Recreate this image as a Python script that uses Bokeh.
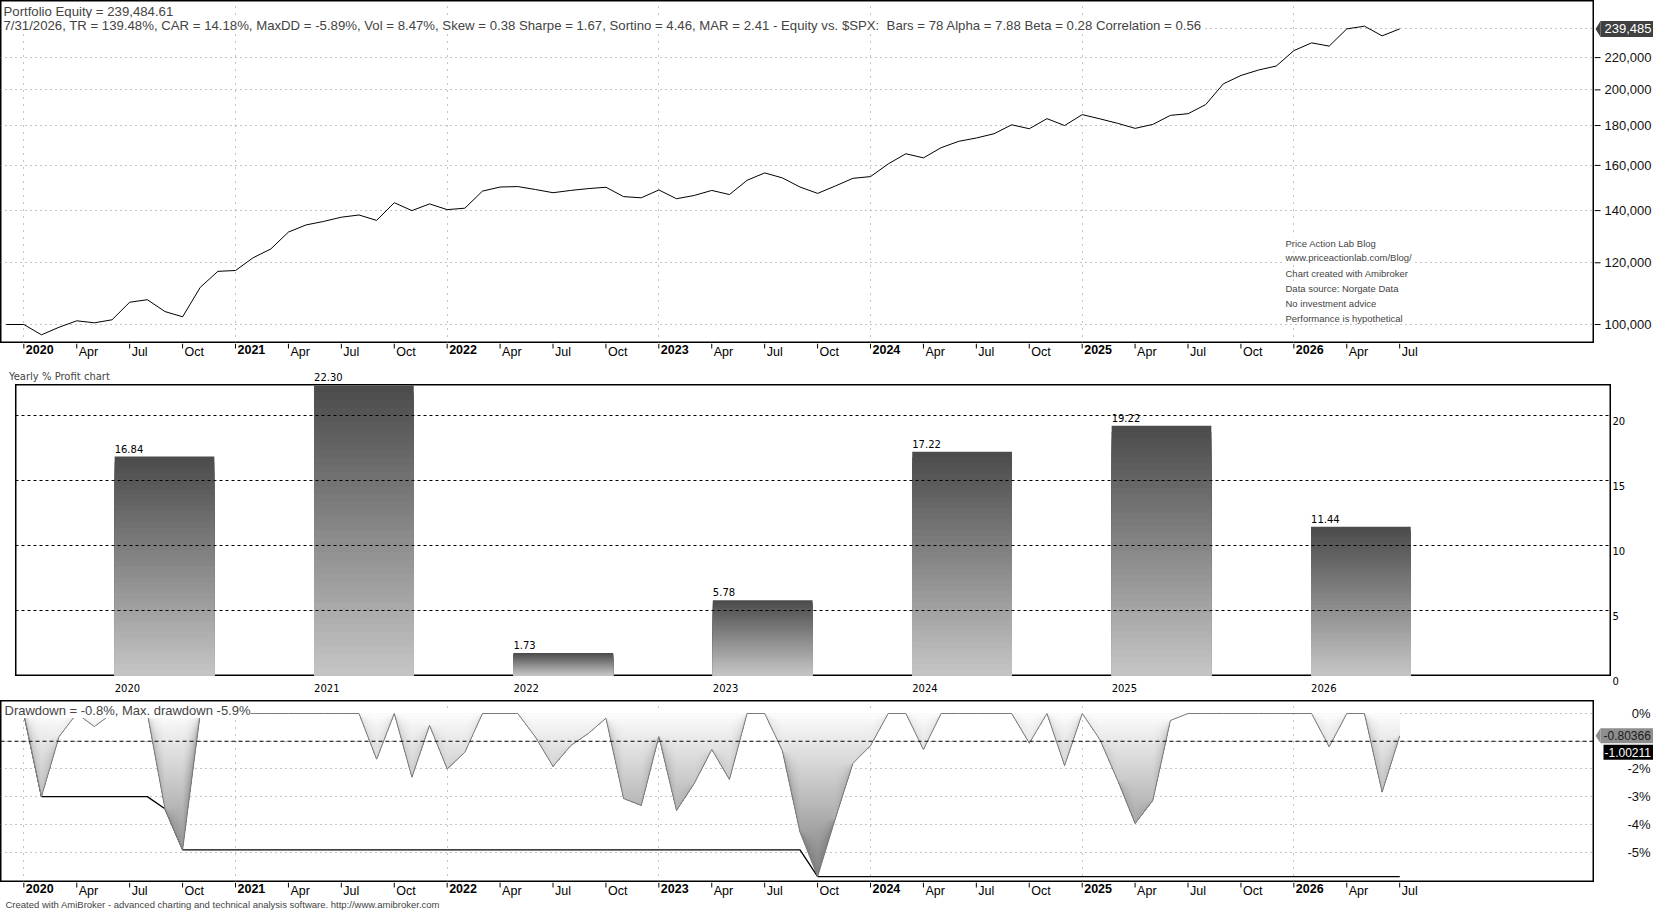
import numpy as np
from bokeh.plotting import figure
from bokeh.models import Range1d, FixedTicker, Label, Span, Spacer
from bokeh.layouts import column, row
from bokeh.core.properties import value
from bokeh.embed import file_html
from bokeh.resources import INLINE

# ---------------------------------------------------------------- data
bar_dates = [(2019, 12)] + [(y, m) for y in range(2020, 2027) for m in range(1, 13)][:79]
month_names = {1: None, 4: "Apr", 7: "Jul", 10: "Oct"}

equity = [100000, 100000, 97000, 99200, 101100, 100500, 101400, 106800, 107600, 103900,
          102300, 111600, 117000, 117300, 121800, 125000, 131400, 134200, 135600, 137300,
          138200, 136000, 143300, 140000, 142800, 140400, 141000, 148300, 150100, 150300,
          149000, 147600, 148600, 149400, 150000, 145900, 145400, 148800, 145000, 146400,
          148600, 146800, 153100, 156500, 154200, 150100, 147300, 150550, 154000, 154800,
          160700, 165600, 163600, 168600, 171800, 173500, 175700, 180400, 178300, 183700,
          180000, 185900, 183600, 181200, 178500, 180600, 185500, 186400, 191500, 203600,
          208700, 212100, 214600, 224600, 229800, 227600, 239500, 241400, 234600, 239484.61]

drawdown = [0, 0, -3.0, -0.83, 0, -0.47, 0, 0, 0, -3.44,
            -4.92, 0, 0, 0, 0, 0, 0, 0, 0, 0,
            0, -1.65, 0, -2.3, -0.43, -2.0, -1.4, 0, 0, 0,
            -0.85, -1.91, -1.16, -0.72, -0.17, -3.07, -3.32, -0.83, -3.5, -2.53,
            -1.3, -2.38, 0, 0, -1.34, -4.28, -5.89, -3.8, -1.8, -1.16,
            0, 0, -1.3, 0, 0, 0, 0, 0, -1.07, 0,
            -1.88, 0, -0.94, -2.4, -3.97, -3.14, -0.25, 0, 0, 0,
            0, 0, 0, 0, 0, -1.2, 0, 0, -2.84, -0.80366]

max_drawdown = [0, 0, -3.0, -3.0, -3.0, -3.0, -3.0, -3.0, -3.0, -3.44,
                -4.92, -4.92, -4.92, -4.92, -4.92, -4.92, -4.92, -4.92, -4.92, -4.92,
                -4.92, -4.92, -4.92, -4.92, -4.92, -4.92, -4.92, -4.92, -4.92, -4.92,
                -4.92, -4.92, -4.92, -4.92, -4.92, -4.92, -4.92, -4.92, -4.92, -4.92,
                -4.92, -4.92, -4.92, -4.92, -4.92, -4.92, -5.89, -5.89, -5.89, -5.89,
                -5.89, -5.89, -5.89, -5.89, -5.89, -5.89, -5.89, -5.89, -5.89, -5.89,
                -5.89, -5.89, -5.89, -5.89, -5.89, -5.89, -5.89, -5.89, -5.89, -5.89,
                -5.89, -5.89, -5.89, -5.89, -5.89, -5.89, -5.89, -5.89, -5.89, -5.89]
avg_drawdown = -1.00211

years = ["2020", "2021", "2022", "2023", "2024", "2025", "2026"]
yearly_profit = [16.84, 22.30, 1.73, 5.78, 17.22, 19.22, 11.44]

equity_ticks = [100000, 120000, 140000, 160000, 180000, 200000, 220000]
profit_ticks = [0, 5, 10, 15, 20]
dd_ticks = [0, -2, -3, -4, -5]
dd_grid = [0, -1, -2, -3, -4, -5]

stats_text = ("7/31/2026, TR = 139.48%, CAR = 14.18%, MaxDD = -5.89%, Vol = 8.47%, "
              "Skew = 0.38 Sharpe = 1.67, Sortino = 4.46, MAR = 2.41 - Equity vs. $SPX:\u00a0 "
              "Bars = 78 Alpha = 7.88 Beta = 0.28 Correlation = 0.56")
info_lines = ["Price Action Lab Blog", "www.priceactionlab.com/Blog/",
              "Chart created with Amibroker", "Data source: Norgate Data",
              "No investment advice", "Performance is hypothetical"]
footer_text = ("Created with AmiBroker - advanced charting and technical analysis software. "
               "http://www.amibroker.com")

# ---------------------------------------------------------------- helpers
idx = list(range(len(equity)))
tick_idx, year_x, year_t, mon_x, mon_t = [], [], [], [], []
for i, (yy, mm) in enumerate(bar_dates):
    if mm in month_names:
        tick_idx.append(i)
        if mm == 1:
            year_x.append(i)
            year_t.append(str(yy))
        else:
            mon_x.append(i)
            mon_t.append(month_names[mm])

FONT = "Liberation Sans"
GRID_DOT = "#8a8a8a"
W = 1653
MAIN_W, RIGHT_W = 1594, 59


def blank(width, height, x_range, y_range, y_log=False):
    p = figure(width=width, height=height, x_range=x_range, y_range=y_range,
               y_axis_type="log" if y_log else "linear",
               x_axis_location=None, y_axis_location=None,
               output_backend="svg", toolbar_location=None,
               min_border=0, min_border_left=0, min_border_right=0,
               min_border_top=0, min_border_bottom=0,
               background_fill_color="white", border_fill_color="white",
               outline_line_color=None)
    p.grid.visible = False
    return p


def boxed(p):
    p.outline_line_color = "black"
    p.outline_line_width = 2


def month_strip(height, label_y):
    s = blank(W, height, Range1d(-0.3231, 93.39), Range1d(-height, 0))
    s.segment(x0=tick_idx, x1=tick_idx, y0=0, y1=-5, line_color="black", line_width=1)
    s.text(x=year_x, y=label_y, text=year_t, x_offset=2, text_align="left",
           text_baseline="top", text_font=value(FONT), text_font_size="12.5px",
           text_font_style="bold", text_color="black")
    s.text(x=mon_x, y=label_y, text=mon_t, x_offset=2, text_align="left",
           text_baseline="top", text_font=value(FONT), text_font_size="12.5px",
           text_color="black")
    return s


x_time = Range1d(-0.3231, 90.04)

# ---------------------------------------------------------------- pane A: equity
HA = 343
yA = Range1d(94542, 260430)
pA = blank(MAIN_W, HA, x_time, yA, y_log=True)
boxed(pA)
pA.xgrid.visible = True
pA.xgrid.ticker = FixedTicker(ticks=year_x)
pA.xgrid.grid_line_dash = "1 6"
pA.xgrid.grid_line_color = GRID_DOT
pA.ygrid.visible = True
pA.ygrid.ticker = FixedTicker(ticks=equity_ticks + [equity[-1]])
pA.ygrid.grid_line_dash = "1 4"
pA.ygrid.grid_line_color = GRID_DOT
pA.line(idx, equity, line_color="black", line_width=1)

pA.add_layout(Label(x=3, y=HA - 10.7, x_units="screen", y_units="screen",
                    text="Portfolio Equity = {:,.2f}".format(equity[-1]),
                    text_font=FONT, text_font_size="13.2px", text_baseline="middle",
                    background_fill_color="white"))
pA.add_layout(Label(x=3, y=HA - 25, x_units="screen", y_units="screen", text=stats_text,
                    text_font=FONT, text_font_size="13.2px", text_baseline="middle",
                    background_fill_color="white"))
for line_txt, yy in zip(info_lines, [242.6, 257.4, 273.2, 288.0, 302.8, 317.6]):
    pA.add_layout(Label(x=1285, y=HA - yy, x_units="screen", y_units="screen", text=line_txt,
                        text_font=FONT, text_font_size="9.5px", text_baseline="middle",
                        background_fill_color="white"))

pAr = blank(RIGHT_W, HA, Range1d(0, RIGHT_W), yA, y_log=True)
pAr.segment(x0=0, x1=6, y0=equity_ticks, y1=equity_ticks, line_color="black")
pAr.text(x=10, y=equity_ticks, text=["{:,}".format(v) for v in equity_ticks],
         text_font=value(FONT), text_font_size="13px", text_baseline="middle",
         text_align="left", text_color="#111111")
ve = equity[-1]
hA = np.exp(8.0 / 338.5)
pAr.patch(x=[1, 6, 6], y=[ve, ve * hA, ve / hA], color="#404040", line_width=0)
pAr.quad(left=6, right=RIGHT_W, bottom=ve / hA, top=ve * hA, color="#404040", line_width=0)
pAr.text(x=10, y=[ve], text=["{:,.0f}".format(ve)], text_font=value(FONT),
         text_font_size="13px", text_baseline="middle", text_align="left",
         text_color="white")

rowA = row(pA, pAr)
stripA = month_strip(19, -1.5)

# ---------------------------------------------------------------- pane B: yearly profit
PXU = 13.0                      # pixels per percent unit in pane B
B_TOP = 291 / PXU               # value at the top edge of the pane B box
LBL_OFF = -8                    # label baseline offset above the bar top (px)
bar_left = [k - 0.25 for k in range(len(years))]
NS = 40
q_left, q_right, q_top, q_col = [], [], [], []
for j in reversed(range(NS)):
    t = (j + 0.5) / NS
    g = int(round(198 + (74 - 198) * t))
    for k, v in enumerate(yearly_profit):
        q_left.append(k - 0.25)
        q_right.append(k + 0.25)
        q_top.append(v * (j + 1) / NS)
        q_col.append("#%02x%02x%02x" % (g, g, g))
val_txt = ["%.2f" % v for v in yearly_profit]
inside = [v + 20 / PXU < B_TOP for v in yearly_profit]

pBt = blank(W, 22, Range1d(-0.8225, (W - 164) / 199.4), Range1d(B_TOP, B_TOP + 22 / PXU))
pBt.add_layout(Label(x=8.4, y=8.4, x_units="screen", y_units="screen",
                     text="Yearly % Profit chart", text_font="DejaVu Sans",
                     text_font_size="10px", text_baseline="middle"))
pBt.text(x=[x for x, f in zip(bar_left, inside) if not f],
         y=[B_TOP for v, f in zip(yearly_profit, inside) if not f],
         text=[s for s, f in zip(val_txt, inside) if not f], y_offset=LBL_OFF,
         text_align="left", text_baseline="alphabetic", text_font=value("DejaVu Sans"),
         text_font_size="10px")

pB = blank(1596, 292, Range1d(-0.7472, 7.2568), Range1d(-1 / PXU, B_TOP))
boxed(pB)
pB.ygrid.visible = True
pB.ygrid.ticker = FixedTicker(ticks=profit_ticks[1:])
pB.ygrid.grid_line_dash = "3 3"
pB.ygrid.grid_line_color = "black"
pB.ygrid.level = "overlay"
pB.quad(left=q_left, right=q_right, bottom=0, top=q_top, fill_color=q_col, line_color=None)
pB.text(x=[x for x, f in zip(bar_left, inside) if f],
        y=[v for v, f in zip(yearly_profit, inside) if f],
        text=[s for s, f in zip(val_txt, inside) if f], y_offset=LBL_OFF,
        text_align="left", text_baseline="alphabetic", text_font=value("DejaVu Sans"),
        text_font_size="10px")

pBb = blank(1611, 24, Range1d(-0.8225, 7.2568), Range1d(-24, 0))
pBb.text(x=bar_left, y=-11, text=years, text_align="left", text_baseline="middle",
         text_font=value("DejaVu Sans"), text_font_size="10px")

pBr = blank(W - 1611, 316, Range1d(0, W - 1611), Range1d(B_TOP - 316 / PXU, B_TOP))
pBr.text(x=[1, 1, 1, 1, 1], y=profit_ticks, text=[str(v) for v in profit_ticks], y_offset=1,
         text_align="left", text_baseline="top", text_font=value("DejaVu Sans"),
         text_font_size="10px")

rowB = row(column(row(Spacer(width=15, height=292), pB), pBb), pBr)

# ---------------------------------------------------------------- pane C: drawdown
PXD = 27.7                      # pixels per percent in pane C
HC = 182
yC = Range1d(-(HC - 13) / PXD, 13 / PXD)
pC = blank(MAIN_W, HC, x_time, yC)
boxed(pC)
pC.xgrid.visible = True
pC.xgrid.ticker = FixedTicker(ticks=year_x)
pC.xgrid.grid_line_dash = "1 6"
pC.xgrid.grid_line_color = GRID_DOT
pC.ygrid.visible = True
pC.ygrid.ticker = FixedTicker(ticks=dd_grid)
pC.ygrid.grid_line_dash = "1 4"
pC.ygrid.grid_line_color = GRID_DOT

pC.line(idx, max_drawdown, line_color="black", line_width=1.3)
dd = np.array(drawdown, dtype=float)
levels = np.arange(0, 61) * -0.1
b_xs, b_ys, b_col = [], [], []
for k in reversed(range(len(levels) - 1)):
    if dd.min() >= levels[k]:
        continue
    bottom = np.maximum(dd, levels[k + 1])
    d = (k + 0.5) * 0.1
    g = int(round(253 - (253 - 125) * d / 6.0))
    b_xs.append(idx + idx[::-1])
    b_ys.append(list(bottom) + [0.0] * len(idx))
    b_col.append("#%02x%02x%02x" % (g, g, g))
pC.patches(xs=b_xs, ys=b_ys, fill_color=b_col, line_color=None)
pC.line(idx, drawdown, line_color="#7a7a7a", line_width=1)
pC.add_layout(Span(location=avg_drawdown, dimension="width", line_color="black",
                   line_dash="4 3", line_width=1))
pC.add_layout(Label(x=4, y=HC - 10, x_units="screen", y_units="screen",
                    text="Drawdown = %.1f%%, Max. drawdown %.1f%%" % (drawdown[-1], max_drawdown[-1]),
                    text_font=FONT, text_font_size="13px", text_baseline="middle",
                    background_fill_color="white"))

pCr = blank(RIGHT_W, HC, Range1d(0, RIGHT_W), yC)
pCr.text(x=56, y=dd_ticks, text=["%d%%" % v for v in dd_ticks], text_align="right",
         text_baseline="middle", text_font=value(FONT), text_font_size="13px",
         text_color="#111111")
hC = 7.5 / PXD
vd = drawdown[-1]
pCr.patch(x=[1, 6, 6], y=[vd, vd + hC, vd - hC], color="#8e8e8e", line_width=0)
pCr.quad(left=6, right=RIGHT_W, bottom=vd - hC, top=vd + hC, color="#8e8e8e", line_width=0)
pCr.text(x=9, y=[vd], text=["%.5f" % vd], text_font=value(FONT), text_font_size="12px",
         text_baseline="middle", text_align="left", text_color="#1a1a1a")
va = vd - 2 * hC - 1.5 / PXD
pCr.quad(left=9, right=RIGHT_W, bottom=va - hC, top=va + hC, color="black", line_width=0)
pCr.text(x=10, y=[va], text=["%.5f" % avg_drawdown], text_font=value(FONT),
         text_font_size="12px", text_baseline="middle", text_align="left",
         text_color="white")

rowC = row(pC, pCr)
stripC = month_strip(28, -1)
stripC.add_layout(Label(x=5, y=6, x_units="screen", y_units="screen", text=footer_text,
                        text_font=FONT, text_font_size="9.5px", text_baseline="middle"))

layout = column(rowA, stripA, pBt, rowB, rowC, stripC)
open("out.html", "w").write(file_html(layout, INLINE))
